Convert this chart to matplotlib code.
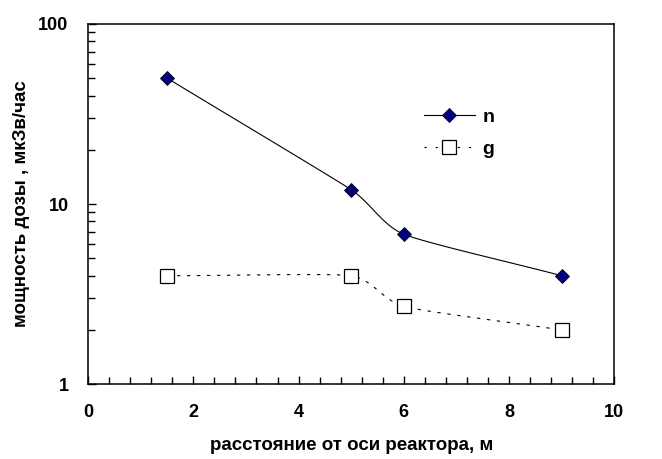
import numpy as np
import matplotlib
matplotlib.use("Agg")
import matplotlib.pyplot as plt
from matplotlib.ticker import MultipleLocator, FixedLocator, NullFormatter, FuncFormatter

# data
distance = [1.5, 5, 6, 9]
dose_n = [50, 12, 6.8, 4]
dose_g = [4, 4, 2.7, 2]

plt.rcParams["font.family"] = ["Liberation Sans", "DejaVu Sans"]
plt.rcParams["font.weight"] = "bold"

# pixel scale of the axes (for Excel-like smoothing)
SX = 52.6   # px per metre
SY = 180.0  # px per decade


def smooth(xs, ys, n=40):
    # smoothed line through the points; tangent length limited by the shorter neighbour chord
    pts = np.column_stack([np.array(xs, float) * SX, np.log10(np.array(ys, float)) * SY])
    m = len(pts)
    tang = []
    for i in range(m):
        if i == 0 or i == m - 1:
            tang.append(None)
            continue
        d = pts[i + 1] - pts[i - 1]
        d = d / np.linalg.norm(d)
        L = min(np.linalg.norm(pts[i + 1] - pts[i]), np.linalg.norm(pts[i] - pts[i - 1]))
        tang.append(d * L / 3)
    out = []
    t = np.linspace(0, 1, n)[:, None]
    for i in range(m - 1):
        p1, p2 = pts[i], pts[i + 1]
        c1 = p1 + tang[i] if tang[i] is not None else p1 + (p2 - p1) / 3
        c2 = p2 - tang[i + 1] if tang[i + 1] is not None else p2 - (p2 - p1) / 3
        seg = ((1 - t) ** 3) * p1 + 3 * ((1 - t) ** 2) * t * c1 + 3 * (1 - t) * t ** 2 * c2 + t ** 3 * p2
        out.append(seg)
    out = np.vstack(out)
    return out[:, 0] / SX, 10 ** (out[:, 1] / SY)


fig = plt.figure(figsize=(6.62, 4.59), dpi=100)
ax = fig.add_axes([0.133, 0.163, 0.795, 0.785])

sx, sy = smooth(distance, dose_n)
ax.plot(sx, sy, color="black", lw=0.8)
ax.plot(distance, dose_n, ls="none", marker="D", ms=7, mfc="#000080", mec="black", mew=0.6)

gx, gy = smooth(distance, dose_g)
ax.plot(gx, gy, color="black", lw=0.8, ls=(0, (3, 6)))
ax.plot(distance, dose_g, ls="none", marker="s", ms=10, mfc="white", mec="black", mew=0.9)

# legend drawn with proxy handles
h1, = ax.plot([], [], color="black", lw=0.8, marker="D", ms=7, mfc="#000080", mec="black", mew=0.6)
h2, = ax.plot([], [], color="black", lw=0.8, ls=(0, (2, 8)), marker="s", ms=10, mfc="white", mec="black", mew=0.9)
ax.legend([h1, h2], ["n", "g"], loc="upper left", bbox_to_anchor=(0.605, 0.815), frameon=False,
          fontsize=14, handlelength=2.6, labelspacing=0.75, handletextpad=0.4)

ax.set_yscale("log")
ax.set_xlim(0, 10)
ax.set_ylim(1, 100)
ax.xaxis.set_major_locator(MultipleLocator(2))
ax.xaxis.set_minor_locator(MultipleLocator(0.4))
ax.yaxis.set_major_locator(FixedLocator([1, 10, 100]))
ax.yaxis.set_major_formatter(FuncFormatter(lambda v, p: "%g" % v))
ax.yaxis.set_minor_formatter(NullFormatter())

ax.tick_params(which="both", direction="in", top=False, right=False, labelsize=13, width=1)
ax.tick_params(which="major", length=6)
ax.tick_params(which="minor", length=5)
ax.tick_params(axis="x", pad=14)
ax.tick_params(axis="y", pad=14)
for s in ax.spines.values():
    s.set_linewidth(1.1)

ax.set_xlabel("расстояние от оси реактора, м", fontsize=13.5, fontweight="bold", labelpad=12)
ax.set_ylabel("мощность дозы , мкЗв/час", fontsize=13.5, fontweight="bold", labelpad=6)

fig.savefig("out.png", dpi=100)
